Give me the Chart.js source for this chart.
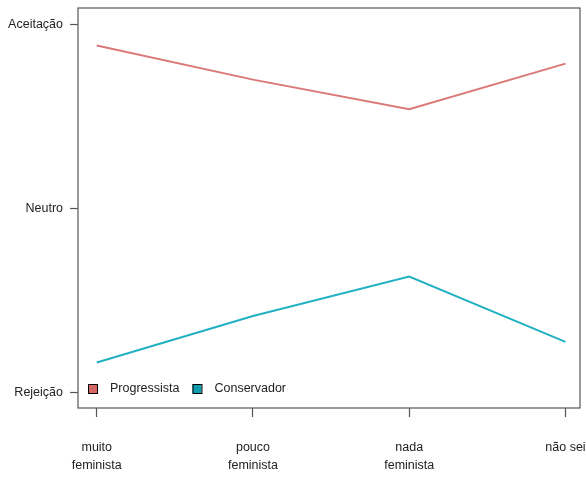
<!DOCTYPE html>
<html>
<head>
<meta charset="utf-8">
<script src="https://cdn.jsdelivr.net/npm/chart.js@4/dist/chart.umd.min.js"></script>
<style>
  html, body { margin: 0; padding: 0; background: #fff; }
  #wrap { width: 586px; height: 477px; position: relative; }
</style>
</head>
<body>
<div id="wrap"><canvas id="chart"></canvas></div>
<script>
// categorias do eixo x
const categories = [['muito', 'feminista'], ['pouco', 'feminista'], ['nada', 'feminista'], ['não sei']];
const xPositions = [1, 2, 3, 4];

// escala de atitude: -1 rejeição, 0 neutro, 1 aceitação
const levelValues = [-1, 0, 1];
const levelLabels = ['Rejeição', 'Neutro', 'Aceitação'];

const progressista = [0.886, 0.701, 0.540, 0.788];
const conservador = [-0.835, -0.582, -0.368, -0.723];

const colors = {
    progressista: '#DB7878',
    conservador: '#22B1C3',
    progressistaFill: '#D46866',
    conservadorFill: '#0E9DAE',
    axis: '#555555',
    text: '#222222'
};

const fontFamily = '"Liberation Sans", Arial, sans-serif';

const toPoints = vals => vals.map((v, i) => ({ x: xPositions[i], y: v }));

// caixa em volta da área do gráfico + legenda dentro
const boxAndLegend = {
    id: 'boxAndLegend',
    afterDraw(chart) {
        const { ctx, chartArea: a } = chart;
        ctx.save();
        ctx.strokeStyle = colors.axis;
        ctx.lineWidth = 1.2;
        ctx.strokeRect(a.left, a.top, a.right - a.left, a.bottom - a.top);

        ctx.font = '12.5px ' + fontFamily;
        ctx.textBaseline = 'middle';
        let x = a.left + 10;
        const y = a.bottom - 19;
        chart.data.datasets.forEach(ds => {
            ctx.fillStyle = ds.legendFill;
            ctx.fillRect(x, y - 5, 9, 9);
            ctx.strokeStyle = '#000';
            ctx.lineWidth = 1;
            ctx.strokeRect(x + 0.5, y - 4.5, 9, 9);
            ctx.fillStyle = colors.text;
            ctx.fillText(ds.label, x + 22, y);
            x += 22 + ctx.measureText(ds.label).width + 13;
        });
        ctx.restore();
    }
};

new Chart(document.getElementById('chart'), {
    type: 'line',
    data: {
        datasets: [
            {
                label: 'Progressista',
                data: toPoints(progressista),
                borderColor: colors.progressista,
                legendFill: colors.progressistaFill,
                borderWidth: 2,
                pointRadius: 0,
                tension: 0
            },
            {
                label: 'Conservador',
                data: toPoints(conservador),
                borderColor: colors.conservador,
                legendFill: colors.conservadorFill,
                borderWidth: 2,
                pointRadius: 0,
                tension: 0
            }
        ]
    },
    options: {
        responsive: true,
        maintainAspectRatio: false,
        animation: false,
        layout: { padding: { top: 8, right: 6, left: 0, bottom: 0 } },
        plugins: {
            legend: { display: false },
            tooltip: { enabled: false }
        },
        scales: {
            x: {
                type: 'linear',
                min: 0.88,
                max: 4.093,
                afterBuildTicks: s => { s.ticks = xPositions.map(v => ({ value: v })); },
                afterFit: s => { s.height = 69; s.paddingLeft = 0; s.paddingRight = 0; },
                border: { display: false },
                grid: { drawOnChartArea: false, drawTicks: true, tickLength: 9, color: colors.axis, tickWidth: 1.2 },
                ticks: {
                    padding: 22,
                    maxRotation: 0,
                    color: colors.text,
                    font: { family: fontFamily, size: 12.5, lineHeight: 1.44 },
                    callback: v => categories[xPositions.indexOf(v)]
                }
            },
            y: {
                min: -1.082,
                max: 1.09,
                afterBuildTicks: s => { s.ticks = levelValues.map(v => ({ value: v })); },
                afterFit: s => { s.width = 78; s.paddingTop = 0; s.paddingBottom = 0; },
                border: { display: false },
                grid: { drawOnChartArea: false, drawTicks: true, tickLength: 8, color: colors.axis, tickWidth: 1.2 },
                ticks: {
                    padding: 7,
                    color: colors.text,
                    font: { family: fontFamily, size: 12.5 },
                    callback: v => levelLabels[levelValues.indexOf(v)]
                }
            }
        }
    },
    plugins: [boxAndLegend]
});
</script>
</body>
</html>
